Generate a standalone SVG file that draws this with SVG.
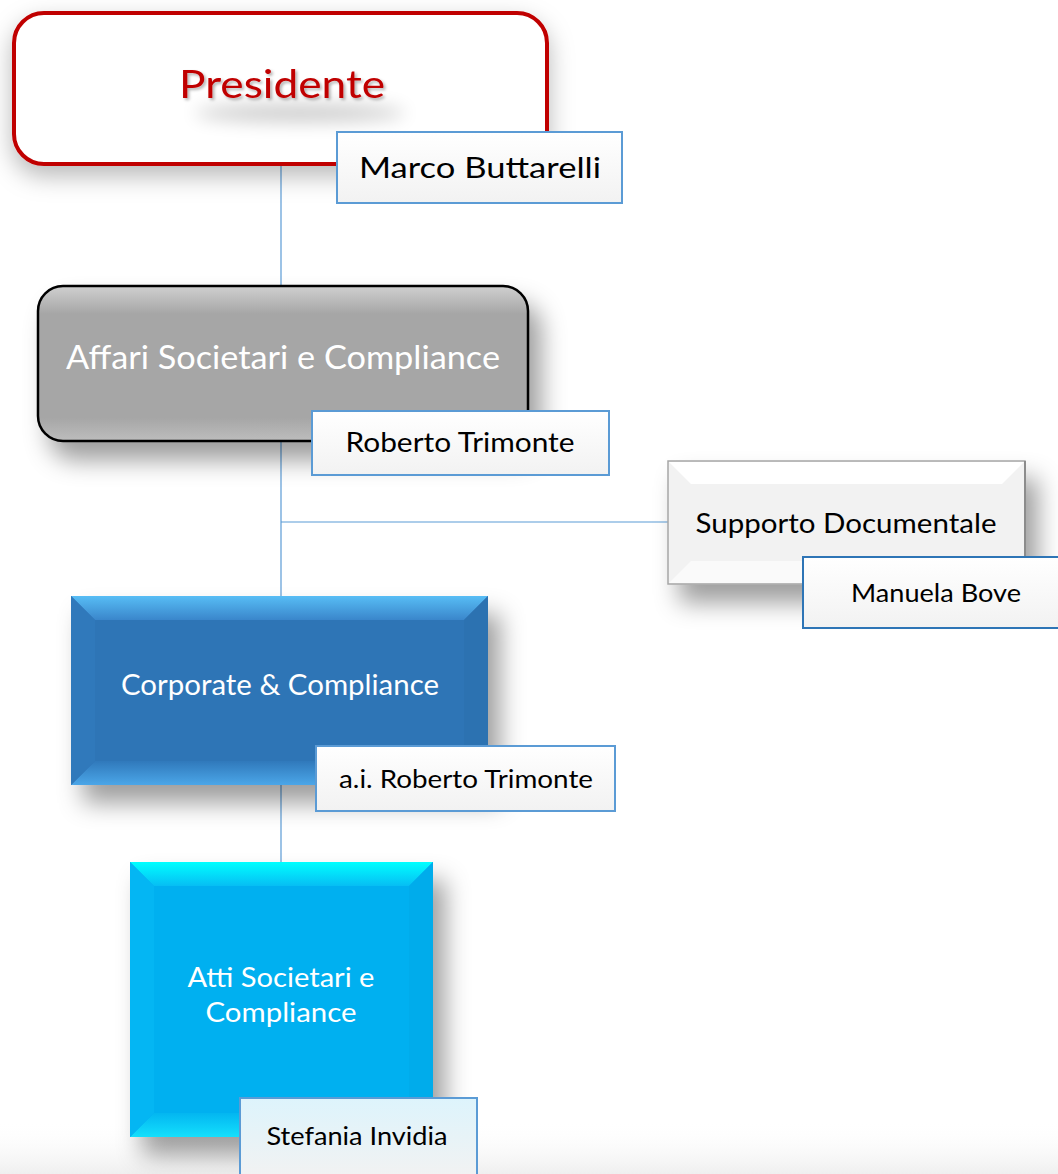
<svg xmlns="http://www.w3.org/2000/svg" width="1058" height="1174" viewBox="0 0 1058 1174">
<style>
.t{font-family:Lato,"Open Sans","Liberation Sans",sans-serif;text-anchor:middle}
.w{fill:#FFFFFF}
.k{fill:#000000}
.lbl{fill:url(#lblg);stroke:#5B9BD5;stroke-width:2}
.conn{stroke:#5B9BD5;stroke-width:1.2;fill:none}
</style>
<defs>
<filter id="sh" x="-25%" y="-25%" width="160%" height="180%">
<feDropShadow dx="12" dy="18" stdDeviation="12" flood-color="#000" flood-opacity="0.38"/>
</filter>
<filter id="glow" x="-20%" y="-40%" width="140%" height="190%">
<feDropShadow dx="0" dy="10" stdDeviation="12" flood-color="#000" flood-opacity="0.28"/>
</filter>
<filter id="tsh" x="-20%" y="-40%" width="140%" height="200%">
<feDropShadow dx="2" dy="2" stdDeviation="1.5" flood-color="#000" flood-opacity="0.3"/>
</filter>
<filter id="blur" x="-50%" y="-100%" width="200%" height="300%"><feGaussianBlur stdDeviation="9"/></filter>
<linearGradient id="lblg" x1="0" y1="0" x2="0" y2="1">
<stop offset="0" stop-color="#FFFFFF"/><stop offset="1" stop-color="#F2F2F2"/>
</linearGradient>
<linearGradient id="lblc" x1="0" y1="0" x2="0" y2="1">
<stop offset="0" stop-color="#DDF4FC"/><stop offset="1" stop-color="#F2F2F2"/>
</linearGradient>
<linearGradient id="grayg" x1="0" y1="0" x2="0" y2="1">
<stop offset="0" stop-color="#D0D0D0"/><stop offset="0.18" stop-color="#A6A6A6"/><stop offset="0.85" stop-color="#A6A6A6"/><stop offset="1" stop-color="#BDBDBD"/>
</linearGradient>
<linearGradient id="bgb" x1="0" y1="0" x2="0" y2="1">
<stop offset="0" stop-color="#FFFFFF" stop-opacity="0"/><stop offset="1" stop-color="#EFEFEF"/>
</linearGradient>
<linearGradient id="btop" x1="0" y1="0" x2="0" y2="1">
<stop offset="0" stop-color="#57BDF5"/><stop offset="1" stop-color="#3A86CB"/>
</linearGradient>
<linearGradient id="bbot" x1="0" y1="0" x2="0" y2="1">
<stop offset="0" stop-color="#3079BB"/><stop offset="1" stop-color="#4BA6E8"/>
</linearGradient>
<linearGradient id="ctop" x1="0" y1="0" x2="0" y2="1">
<stop offset="0" stop-color="#00FFFF"/><stop offset="1" stop-color="#06BEF4"/>
</linearGradient>
<linearGradient id="cbot" x1="0" y1="0" x2="0" y2="1">
<stop offset="0" stop-color="#03B6F1"/><stop offset="1" stop-color="#14E0FC"/>
</linearGradient>
</defs>
<rect x="0" y="0" width="1058" height="1174" fill="#FFFFFF"/>
<rect x="0" y="1120" width="1058" height="54" fill="url(#bgb)"/>

<g id="connectors">
<line class="conn" x1="281" y1="165" x2="281" y2="287"/>
<line class="conn" x1="281" y1="441" x2="281" y2="596"/>
<line class="conn" x1="281" y1="522" x2="668" y2="522"/>
<line class="conn" x1="281" y1="785" x2="281" y2="862"/>
</g>

<g id="presidente">
<rect x="14" y="13" width="533" height="151" rx="30" fill="#FFFFFF" stroke="#C00000" stroke-width="4" filter="url(#glow)"/>
<ellipse cx="300" cy="113" rx="105" ry="9" fill="#000" opacity="0.2" filter="url(#blur)"/>
<text class="t" x="282" y="98" font-size="38" fill="#C00000" filter="url(#tsh)" textLength="206" lengthAdjust="spacingAndGlyphs">Presidente</text>
</g>
<g id="presidente-name">
<rect class="lbl" x="337" y="132" width="285" height="71"/>
<text class="t k" x="480" y="178" font-size="29" textLength="242" lengthAdjust="spacingAndGlyphs">Marco Buttarelli</text>
</g>

<g id="affari">
<rect x="38" y="286" width="490" height="155" rx="25" fill="url(#grayg)" stroke="#000" stroke-width="2.5" filter="url(#sh)"/>
<text class="t w" x="283" y="369" font-size="33" textLength="434" lengthAdjust="spacingAndGlyphs">Affari Societari e Compliance</text>
</g>
<g id="affari-name">
<rect class="lbl" x="312" y="411" width="297" height="64"/>
<text class="t k" x="460" y="452" font-size="26" textLength="229" lengthAdjust="spacingAndGlyphs">Roberto Trimonte</text>
</g>

<g id="supporto">
<rect x="668" y="461" width="357" height="123" fill="#F2F2F2" stroke="#A6A6A6" stroke-width="1.5" filter="url(#sh)"/>
<polygon points="669,462 1024,462 1002,484 691,484" fill="#FFFFFF"/>
<polygon points="669,583 1024,583 1002,561 691,561" fill="#FAFAFA"/>
<line x1="1025" y1="461" x2="1025" y2="584" stroke="#8C8C8C" stroke-width="2"/>
<text class="t k" x="846" y="533" font-size="27" textLength="301" lengthAdjust="spacingAndGlyphs">Supporto Documentale</text>
</g>
<g id="supporto-name">
<rect x="803" y="557" width="265" height="71" fill="url(#lblg)" stroke="#2E75B6" stroke-width="2"/>
<text class="t k" x="936" y="602" font-size="25" textLength="170" lengthAdjust="spacingAndGlyphs">Manuela Bove</text>
</g>

<g id="corporate">
<rect x="71" y="596" width="417" height="189" fill="#2E75B6" filter="url(#sh)"/>
<polygon points="71,596 488,596 464,620 95,620" fill="url(#btop)"/>
<polygon points="71,785 488,785 464,761 95,761" fill="url(#bbot)"/>
<polygon points="71,596 95,620 95,761 71,785" fill="#3079BB"/>
<polygon points="488,596 464,620 464,761 488,785" fill="#2C72B1"/>
<text class="t w" x="280" y="695" font-size="28" textLength="318" lengthAdjust="spacingAndGlyphs">Corporate &amp; Compliance</text>
</g>
<g id="corporate-name">
<rect class="lbl" x="316" y="746" width="299" height="65"/>
<text class="t k" x="466" y="788" font-size="25" textLength="254" lengthAdjust="spacingAndGlyphs">a.i. Roberto Trimonte</text>
</g>

<g id="atti">
<rect x="130" y="862" width="303" height="275" fill="#00B0F0" filter="url(#sh)"/>
<polygon points="130,862 433,862 409,886 154,886" fill="url(#ctop)"/>
<polygon points="130,1137 433,1137 409,1113 154,1113" fill="url(#cbot)"/>
<polygon points="130,862 154,886 154,1113 130,1137" fill="#04B6F3"/>
<polygon points="433,862 409,886 409,1113 433,1137" fill="#00ACEB"/>
<text class="t w" x="281" y="987" font-size="27" textLength="187" lengthAdjust="spacingAndGlyphs">Atti Societari e</text>
<text class="t w" x="281" y="1022" font-size="27" textLength="151" lengthAdjust="spacingAndGlyphs">Compliance</text>
</g>
<g id="atti-name">
<rect x="240" y="1098" width="237" height="80" fill="url(#lblc)" stroke="#5B9BD5" stroke-width="2"/>
<text class="t k" x="357" y="1145" font-size="25" textLength="181" lengthAdjust="spacingAndGlyphs">Stefania Invidia</text>
</g>
</svg>
